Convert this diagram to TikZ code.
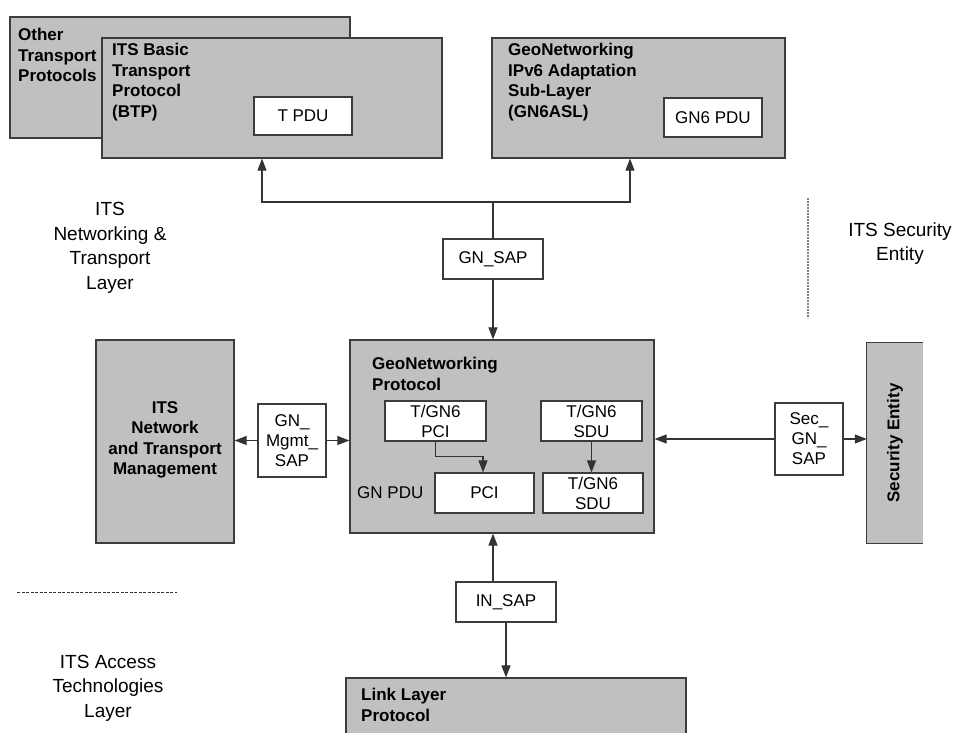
\documentclass[tikz,border=0pt]{standalone}
\usepackage{fontspec}
\setmainfont{Liberation Sans}
\usetikzlibrary{arrows.meta}
\definecolor{boxgray}{HTML}{C0C0C0}
\definecolor{bord}{HTML}{3C3C3C}
\definecolor{lin}{HTML}{333333}
\begin{document}
\begin{tikzpicture}[x=1pt,y=-1pt,
 box/.style={draw=bord, line width=1.2pt, fill=boxgray, inner sep=0pt, anchor=center},
 wbox/.style={draw=bord, line width=1.1pt, fill=white, inner sep=0pt, align=center, font=\fontsize{17}{20}\selectfont},
 ttl/.style={anchor=north west, inner sep=0pt, align=left, font=\fontsize{17}{20.6}\selectfont\bfseries},
 lay/.style={align=center, inner sep=0pt, font=\fontsize{19}{24.5}\selectfont},
 conn/.style={draw=lin, line width=1.1pt},
 arr/.style={conn, -{Triangle[length=12pt,width=9pt]}},
]
\useasboundingbox (0,0) rectangle (954,733);
\clip (0,0) rectangle (954,733);

% top boxes
\node[box, minimum width=340pt, minimum height=121pt] (other) at (180,77.5) {};
\node[ttl] (otherT) at (18,28) {Other\\Transport\\Protocols};
\node[box, minimum width=340pt, minimum height=120pt] (btp) at (272,98) {};
\node[ttl] (btpT) at (112,43) {ITS Basic\\Transport\\Protocol\\(BTP)};
\node[wbox, minimum width=98pt, minimum height=38pt] (tpdu) at (303,116) {T PDU};

\node[box, minimum width=293pt, minimum height=120pt] (gn6) at (638.5,98) {};
\node[ttl] (gn6T) at (508,43) {GeoNetworking\\IPv6 Adaptation\\Sub-Layer\\(GN6ASL)};
\node[wbox, minimum width=98pt, minimum height=39pt] (gn6pdu) at (713,117.5) {GN6 PDU};

% GN_SAP
\node[wbox, minimum width=100pt, minimum height=40pt] (gnsap) at (493,259) {GN\_SAP};

% GeoNetworking protocol
\node[box, minimum width=304pt, minimum height=193pt] (gnp) at (502,436.5) {};
\node[ttl] (gnpT) at (372,357) {GeoNetworking\\Protocol};
\node[wbox, minimum width=101pt, minimum height=40pt] (pci1) at (435.5,421) {T/GN6\\PCI};
\node[wbox, minimum width=101pt, minimum height=40pt] (sdu1) at (591.5,421) {T/GN6\\SDU};
\node[wbox, minimum width=99pt, minimum height=40pt] (pci2) at (484.5,493) {PCI};
\node[wbox, minimum width=100pt, minimum height=40pt] (sdu2) at (593,493) {T/GN6\\SDU};
\node[anchor=west, inner sep=0pt, font=\fontsize{17}{20}\selectfont] (gnpdu) at (357,493) {GN PDU};

% management
\node[box, minimum width=138pt, minimum height=203pt] (mgmt) at (165,441.5) {};
\node[align=center, inner sep=0pt, font=\fontsize{17}{20.4}\selectfont\bfseries] (mgmtT) at (165,440) {ITS\\Network\\and Transport\\Management};
\node[wbox, minimum width=68pt, minimum height=73pt] (mgmtsap) at (292,440.5) {GN\_\\Mgmt\_\\SAP};

% security
\node[fill=boxgray, inner sep=0pt, minimum width=56pt, minimum height=200pt] (sec) at (895,443) {};
\draw[draw=bord, line width=1.2pt] (sec.north east) -- (sec.north west) -- (sec.south west) -- (sec.south east);
\node[rotate=90, inner sep=0pt, font=\fontsize{17}{20}\selectfont\bfseries] (secT) at (895,443) {Security Entity};
\node[wbox, minimum width=68pt, minimum height=72pt] (secsap) at (809,439) {Sec\_\\GN\_\\SAP};

% IN_SAP and link layer
\node[wbox, minimum width=100pt, minimum height=40pt] (insap) at (506,602) {IN\_SAP};
\node[box, minimum width=340pt, minimum height=80pt] (link) at (516,718) {};
\node[ttl] (linkT) at (361,688) {Link Layer\\Protocol};

% layer labels
\node[lay] (l1) at (110,248) {ITS\\Networking \&\\Transport\\Layer};
\node[lay] (l2) at (108,688) {ITS Access\\Technologies\\Layer};
\node[lay] (l3) at (900,243.5) {ITS Security\\Entity};

% separators
\coordinate (d1) at (17,592);
\coordinate (d2) at (177,592);
\draw[lin, line width=0.8pt, dash pattern=on 3pt off 1.5pt] (d1) -- (d2);
\coordinate (v1) at (808,198);
\coordinate (v2) at (808,318);
\draw[gray, line width=1.1pt, dash pattern=on 2pt off 1pt] (v1) -- (v2);

% connectors
\coordinate (j) at (493,202);
\coordinate (jl) at (262,202);
\coordinate (jr) at (630,202);
\draw[conn] (gnsap.north) -- (j);
\draw[arr] (j) -- (jl) -- (jl |- btp.south);
\draw[arr] (j) -- (jr) -- (jr |- gn6.south);
\draw[arr] (gnsap.south) -- (gnsap.south |- gnp.north);

\draw[arr] (mgmtsap.west) -- (mgmt.east |- mgmtsap.west);
\draw[arr] (mgmtsap.east) -- (gnp.west |- mgmtsap.east);
\draw[arr] (secsap.west) -- (gnp.east |- secsap.west);
\draw[arr] (secsap.east) -- (sec.west |- secsap.east);

\draw[arr] (pci1.south) -- ++(0,15) -| ([xshift=-1.5pt]pci2.north);
\draw[arr] (sdu1.south) -- (sdu1.south |- sdu2.north);

\draw[arr] ([xshift=-13pt]insap.north) -- ([xshift=-13pt]insap.north |- gnp.south);
\draw[arr] (insap.south) -- (insap.south |- link.north);
\end{tikzpicture}
\end{document}
